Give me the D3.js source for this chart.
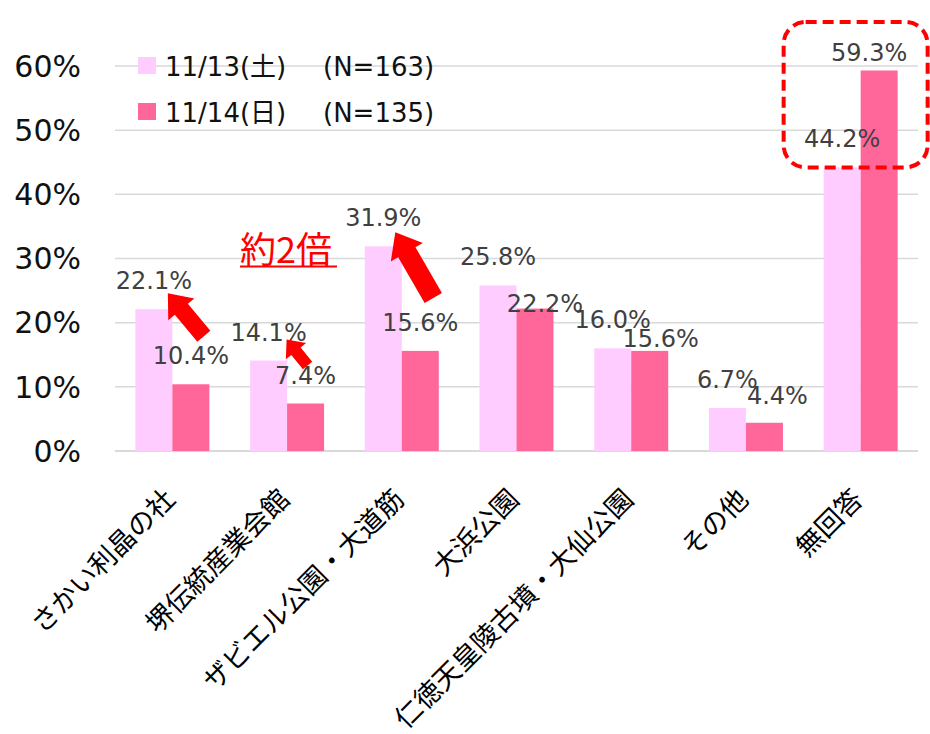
<!DOCTYPE html>
<html>
<head>
<meta charset="utf-8">
<script src="https://cdn.jsdelivr.net/npm/d3@7"></script>
<style>
  html, body { margin: 0; padding: 0; background: #fff; }
  svg { display: block; }
</style>
</head>
<body>
<div id="chart"></div>
<script>
// --- data ---
const categories = ['さかい利晶の社', '堺伝統産業会館', 'ザビエル公園・大道筋', '大浜公園', '仁徳天皇陵古墳・大仙公園', 'その他', '無回答'];
const seriesNames = ['11/13(土)', '11/14(日)'];
const seriesN = ['(N=163)', '(N=135)'];
const sat = [22.1, 14.1, 31.9, 25.8, 16.0, 6.7, 44.2];
const sun = [10.4, 7.4, 15.6, 22.2, 15.6, 4.4, 59.3];
const yTicks = [0, 10, 20, 30, 40, 50, 60];

// --- look ---
const W = 930, H = 734;
const plot = { left: 115, right: 918, top: 66, bottom: 451 };
const colors = ['#FFCCFF', '#FF6699'];
const NUM_FONT = "'DejaVu Sans', 'Noto Sans CJK JP', sans-serif";
const JP_FONT = "'Noto Sans CJK JP', 'DejaVu Sans', sans-serif";

// label nudges the original author made by hand (series, category, dx, dy)
const labelNudge = [[1, 3, 10, 23], [1, 4, 11, 16], [1, 5, 13, 1], [1, 6, -10, 11]];

const svg = d3.select('#chart').append('svg').attr('width', W).attr('height', H);

const x0 = d3.scaleBand().domain(categories).range([plot.left, plot.right])
    .paddingInner(0.355).paddingOuter(0.1775);
const x1 = d3.scaleBand().domain([0, 1]).range([0, x0.bandwidth()]);
const y = d3.scaleLinear().domain([0, 60]).range([plot.bottom, plot.top]);

// gridlines
svg.append('g').selectAll('line').data(yTicks).join('line')
    .attr('x1', plot.left).attr('x2', plot.right)
    .attr('y1', d => y(d)).attr('y2', d => y(d))
    .attr('stroke', '#D9D9D9').attr('stroke-width', d => d === 0 ? 2 : 1.5);

// y tick labels
svg.append('g').selectAll('text').data(yTicks).join('text')
    .attr('x', 81).attr('y', d => y(d)).attr('dy', '0.36em')
    .attr('text-anchor', 'end')
    .attr('font-family', NUM_FONT).attr('font-size', 30).attr('fill', '#111')
    .text(d => d + '%');

// bars
const rows = categories.map((c, i) => ({ c, i, v: [sat[i], sun[i]] }));
const groups = svg.append('g').selectAll('g').data(rows).join('g')
    .attr('transform', d => `translate(${x0(d.c)},0)`);
groups.selectAll('rect').data(d => d.v.map((v, s) => ({ v, s }))).join('rect')
    .attr('x', d => x1(d.s)).attr('width', x1.bandwidth())
    .attr('y', d => y(d.v)).attr('height', d => y(0) - y(d.v))
    .attr('fill', d => colors[d.s]);

// value labels
groups.selectAll('text').data(d => d.v.map((v, s) => {
    const n = labelNudge.find(k => k[0] === s && k[1] === d.i);
    return { v, s, dx: n ? n[2] : 0, dy: n ? n[3] : 0 };
})).join('text')
    .attr('x', d => x1(d.s) + x1.bandwidth() / 2 + d.dx)
    .attr('y', d => y(d.v) - 20 + d.dy)
    .attr('text-anchor', 'middle')
    .attr('font-family', NUM_FONT).attr('font-size', 24).attr('fill', '#404040')
    .text(d => d.v.toFixed(1) + '%');

// category labels, rotated
svg.append('g').selectAll('text').data(categories).join('text')
    .attr('transform', d => `translate(${x0(d) + x0.bandwidth() / 2 + 4},501) rotate(-45)`)
    .attr('text-anchor', 'end')
    .attr('font-family', JP_FONT).attr('font-size', 27).attr('fill', '#000')
    .text(d => d);

// legend
const leg = svg.append('g').selectAll('g').data(seriesNames).join('g')
    .attr('transform', (d, i) => `translate(138,${57 + i * 46})`);
leg.append('rect').attr('width', 18).attr('height', 17).attr('fill', (d, i) => colors[i]);
leg.append('text').attr('x', 27).attr('y', 19)
    .attr('font-family', NUM_FONT).attr('font-size', 26).attr('fill', '#111')
    .text(d => d);
leg.append('text').attr('x', 185).attr('y', 19)
    .attr('font-family', NUM_FONT).attr('font-size', 26).attr('fill', '#111')
    .text((d, i) => seriesN[i]);

// --- annotations ---
// block arrows from the Sunday label up to the Saturday label
function blockArrow(g, x1p, y1p, x2p, y2p, shaftW, headW, headL) {
    const dx = x2p - x1p, dy = y2p - y1p, L = Math.hypot(dx, dy);
    const ux = dx / L, uy = dy / L, px = -uy, py = ux;
    const bx = x2p - ux * headL, by = y2p - uy * headL;
    const pts = [
        [x1p + px * shaftW / 2, y1p + py * shaftW / 2],
        [bx + px * shaftW / 2, by + py * shaftW / 2],
        [bx + px * headW / 2, by + py * headW / 2],
        [x2p, y2p],
        [bx - px * headW / 2, by - py * headW / 2],
        [bx - px * shaftW / 2, by - py * shaftW / 2],
        [x1p - px * shaftW / 2, y1p - py * shaftW / 2]
    ];
    g.append('polygon').attr('points', pts.map(p => p.join(',')).join(' ')).attr('fill', '#FF0000');
}
const arrows = [
    { i: 0, tail: [13, -48], tip: [14, -16], shaft: 17, head: 34, headL: 21 },
    { i: 1, tail: [2, -38], tip: [18, -21], shaft: 12, head: 26, headL: 15 },
    { i: 2, tail: [13, -53], tip: [12, -14], shaft: 20, head: 37, headL: 23 }
];
const ann = svg.append('g');
arrows.forEach(a => {
    const c = categories[a.i];
    const lx = x0(c) + x1(0) + x1.bandwidth() / 2;
    const dx = x0(c) + x1(1) + x1.bandwidth() / 2;
    blockArrow(ann,
        dx + a.tail[0], y(sun[a.i]) + a.tail[1],
        lx + a.tip[0], y(sat[a.i]) + a.tip[1],
        a.shaft, a.head, a.headL);
});

// "約2倍" underlined
ann.append('text').attr('x', 240).attr('y', 263)
    .attr('font-family', JP_FONT).attr('font-size', 36).attr('fill', '#FF0000')
    .text('約2倍');
ann.append('line').attr('x1', 240).attr('x2', 337).attr('y1', 266.5).attr('y2', 266.5)
    .attr('stroke', '#FF0000').attr('stroke-width', 2);

// dashed highlight around 無回答
const last = categories[categories.length - 1];
ann.append('rect')
    .attr('x', x0(last) - 40).attr('y', 22)
    .attr('width', x0.bandwidth() + 70).attr('height', y(sat[6]) - 22)
    .attr('rx', 22).attr('ry', 22)
    .attr('fill', 'none').attr('stroke', '#FF0000').attr('stroke-width', 4)
    .attr('stroke-dasharray', '11 6');
</script>
</body>
</html>
